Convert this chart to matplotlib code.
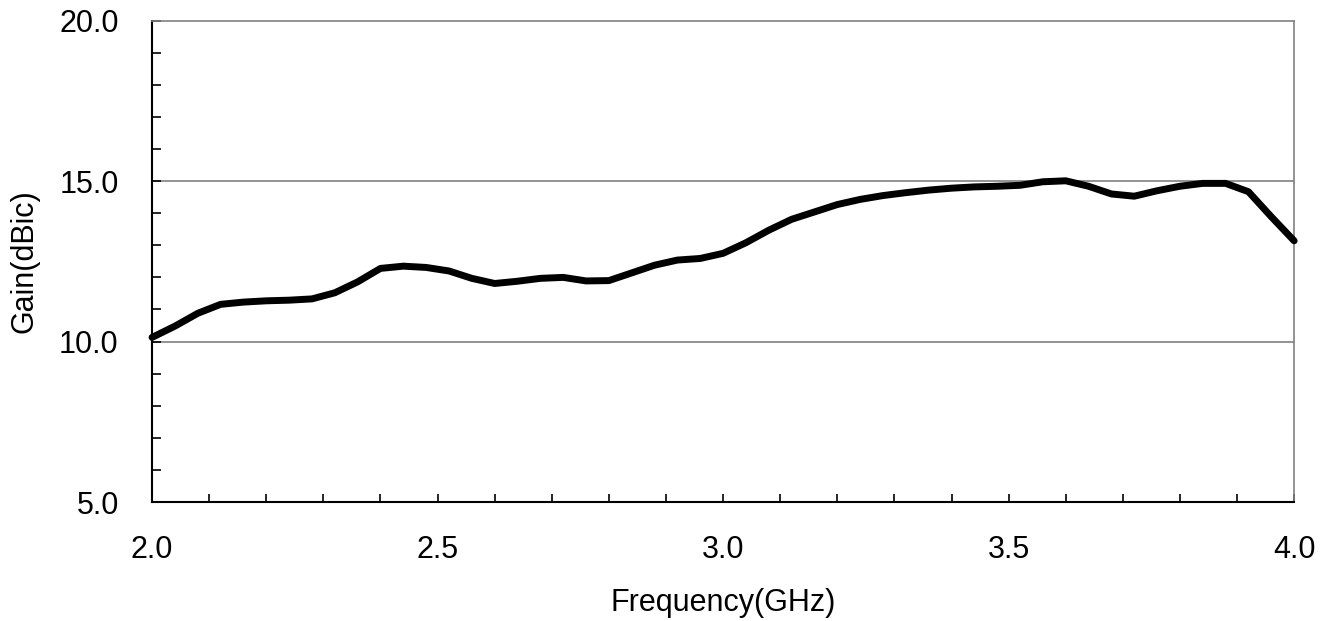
import matplotlib
matplotlib.use("Agg")
import matplotlib.pyplot as plt
import numpy as np

plt.rcParams['font.family'] = ['Liberation Sans', 'DejaVu Sans']

# frequency (GHz) and gain (dBic)
freq = [2.00, 2.04, 2.08, 2.12, 2.16, 2.20, 2.24, 2.28, 2.32, 2.36,
        2.40, 2.44, 2.48, 2.52, 2.56, 2.60, 2.64, 2.68, 2.72, 2.76,
        2.80, 2.84, 2.88, 2.92, 2.96, 3.00, 3.04, 3.08, 3.12, 3.16,
        3.20, 3.24, 3.28, 3.32, 3.36, 3.40, 3.44, 3.48, 3.52, 3.56,
        3.60, 3.64, 3.68, 3.72, 3.76, 3.80, 3.84, 3.88, 3.92, 3.96,
        4.00]
gain = [10.13, 10.48, 10.88, 11.16, 11.23, 11.27, 11.29, 11.33, 11.52, 11.86,
        12.28, 12.35, 12.31, 12.20, 11.97, 11.81, 11.88, 11.97, 12.00, 11.89,
        11.90, 12.14, 12.38, 12.54, 12.59, 12.75, 13.08, 13.47, 13.81, 14.04,
        14.27, 14.43, 14.55, 14.64, 14.72, 14.78, 14.82, 14.84, 14.87, 14.98,
        15.01, 14.84, 14.60, 14.53, 14.70, 14.84, 14.93, 14.93, 14.67, 13.89,
        13.14]

xticks = [2.0, 2.5, 3.0, 3.5, 4.0]
yticks = [5.0, 10.0, 15.0, 20.0]

fs = 22
grey = '#808080'

fig = plt.figure(figsize=(13.28, 6.21), dpi=100)
ax = fig.add_axes([0.1145, 0.1916, 0.86, 0.7751])

ax.plot(freq, gain, color='black', lw=5, solid_joinstyle='round', solid_capstyle='round', zorder=3, clip_on=False)

ax.set_xlim(2.0, 4.0)
ax.set_ylim(5.0, 20.0)
ax.set_xticks(xticks)
ax.set_xticklabels(['%.1f' % v for v in xticks])
ax.set_yticks(yticks)
ax.set_yticklabels(['%.1f' % v for v in yticks])
ax.set_xticks(np.arange(2.0, 4.0001, 0.1), minor=True)
ax.set_yticks(np.arange(5.0, 20.0001, 1.0), minor=True)

for y in [10.0, 15.0]:
    ax.axhline(y, color=grey, lw=1.2, zorder=1)

ax.tick_params(axis='both', which='both', direction='in', color='black', width=1.2, labelsize=fs)
ax.tick_params(axis='x', which='both', length=6, pad=24)
ax.tick_params(axis='y', which='both', length=6.5, pad=24)
ax.tick_params(top=False, right=False, which='both')

ax.spines['left'].set_color('black')
ax.spines['bottom'].set_color('black')
ax.spines['left'].set_linewidth(1.5)
ax.spines['bottom'].set_linewidth(1.5)
ax.spines['top'].set_color(grey)
ax.spines['right'].set_color(grey)
ax.spines['top'].set_linewidth(1.2)
ax.spines['right'].set_linewidth(1.2)

ax.set_xlabel('Frequency(GHz)', fontsize=fs, labelpad=16)
ax.set_ylabel('Gain(dBic)', fontsize=fs, labelpad=14)

fig.savefig('out.png', dpi=100)
